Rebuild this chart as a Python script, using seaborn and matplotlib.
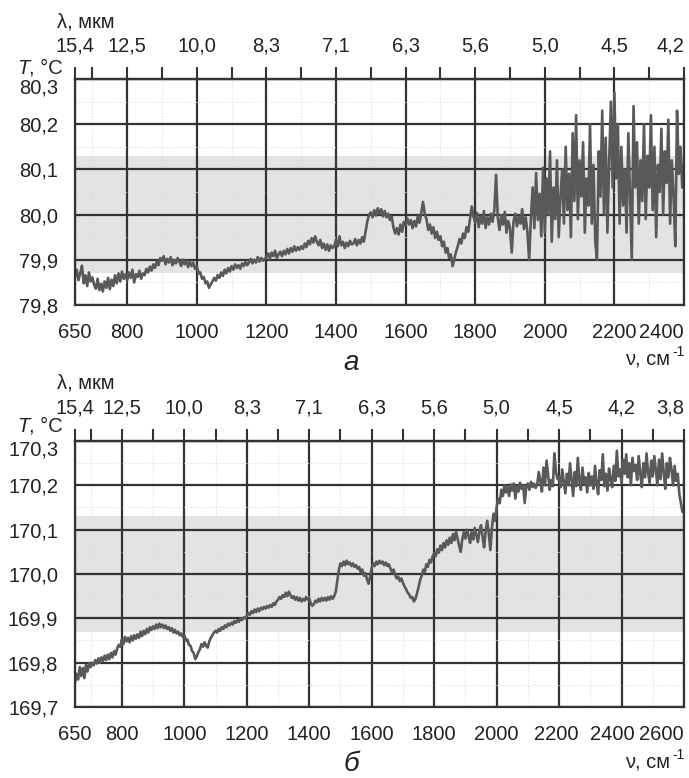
import numpy as np
import pandas as pd
import seaborn as sns
import matplotlib.pyplot as plt
from matplotlib.transforms import ScaledTranslation

# --- donnees ---
# panneau a : nu = 650..2400 cm-1, pas 5
nu_a = np.arange(650, 2401, 5)
T_a = [
    79.862, 79.878, 79.855, 79.870, 79.887, 79.848, 79.866, 79.842, 79.872, 79.852,
    79.861, 79.845, 79.836, 79.858, 79.833, 79.847, 79.830, 79.852, 79.838, 79.860,
    79.835, 79.856, 79.842, 79.866, 79.848, 79.870, 79.852, 79.874, 79.858, 79.868,
    79.855, 79.872, 79.860, 79.878, 79.850, 79.868, 79.862, 79.876, 79.858, 79.870,
    79.866, 79.880, 79.872, 79.885, 79.876, 79.890, 79.882, 79.896, 79.888, 79.904,
    79.898, 79.908, 79.890, 79.902, 79.894, 79.906, 79.888, 79.900, 79.892, 79.904,
    79.896, 79.886, 79.900, 79.890, 79.898, 79.884, 79.896, 79.886, 79.894, 79.880,
    79.886, 79.870, 79.872, 79.858, 79.862, 79.848, 79.852, 79.838, 79.846, 79.852,
    79.860, 79.854, 79.866, 79.860, 79.872, 79.864, 79.878, 79.870, 79.882, 79.874,
    79.886, 79.878, 79.890, 79.882, 79.888, 79.880, 79.892, 79.886, 79.896, 79.888,
    79.894, 79.902, 79.892, 79.900, 79.894, 79.906, 79.896, 79.904, 79.898, 79.902,
    79.906, 79.914, 79.902, 79.916, 79.908, 79.920, 79.904, 79.912, 79.918, 79.908,
    79.920, 79.912, 79.924, 79.914, 79.926, 79.918, 79.930, 79.920, 79.928, 79.922,
    79.930, 79.924, 79.936, 79.928, 79.942, 79.934, 79.948, 79.938, 79.952, 79.940,
    79.932, 79.944, 79.926, 79.936, 79.922, 79.934, 79.920, 79.932, 79.926, 79.930,
    79.944, 79.930, 79.952, 79.932, 79.940, 79.926, 79.938, 79.930, 79.942, 79.934,
    79.936, 79.946, 79.932, 79.944, 79.936, 79.950, 79.940, 79.962, 79.985, 80.000,
    80.005, 79.994, 80.010, 79.998, 80.014, 80.002, 80.012, 79.996, 80.008, 79.994,
    80.002, 79.988, 79.996, 79.972, 79.958, 79.970, 79.956, 79.978, 79.962, 79.984,
    79.976, 79.992, 79.978, 79.988, 79.970, 79.986, 79.974, 79.996, 79.982, 80.004,
    80.028, 80.002, 79.990, 79.966, 79.978, 79.958, 79.972, 79.948, 79.962, 79.944,
    79.952, 79.930, 79.940, 79.916, 79.926, 79.904, 79.912, 79.886, 79.902, 79.918,
    79.930, 79.946, 79.936, 79.958, 79.948, 79.972, 79.962, 79.990, 80.018, 79.996,
    79.982, 80.004, 79.972, 79.996, 79.980, 80.008, 79.970, 79.994, 79.978, 80.002,
    79.984, 80.010, 80.088, 79.992, 79.966, 79.998, 79.978, 80.006, 79.960, 79.986,
    79.970, 79.916, 79.984, 80.002, 79.974, 79.996, 79.980, 80.012, 79.968, 79.994,
    79.962, 79.900, 79.990, 80.060, 79.970, 80.092, 79.988, 80.046, 79.952, 80.104,
    79.960, 80.080, 80.000, 80.140, 79.940, 80.060, 79.990, 80.120, 79.950, 80.040,
    80.100, 79.980, 80.150, 80.010, 80.090, 79.950, 80.180, 80.030, 80.220, 79.990,
    80.120, 80.040, 80.160, 79.960, 80.080, 80.020, 80.200, 79.980, 80.110, 79.940,
    79.900, 80.140, 80.040, 80.230, 80.000, 80.170, 79.960, 80.120, 80.250, 80.060,
    80.270, 80.080, 80.200, 79.980, 80.150, 80.020, 80.100, 79.960, 80.180, 80.040,
    79.900, 80.240, 80.060, 80.160, 79.980, 80.120, 80.030, 80.200, 79.990, 80.130,
    80.060, 80.220, 80.010, 80.150, 79.950, 80.110, 80.050, 80.190, 80.000, 80.140,
    80.070, 80.210, 79.980, 80.120, 80.040, 79.930, 80.230, 80.090, 80.150, 80.060,
    80.110,
]

# panneau b : nu = 650..2600 cm-1, pas 5
nu_b = np.arange(650, 2601, 5)
T_b = [
    169.755, 169.775, 169.762, 169.790, 169.770, 169.788, 169.765, 169.795, 169.780, 169.798,
    169.790, 169.800, 169.794, 169.806, 169.798, 169.810, 169.800, 169.812, 169.804, 169.816,
    169.806, 169.818, 169.808, 169.822, 169.812, 169.826, 169.818, 169.832, 169.840, 169.836,
    169.852, 169.842, 169.858, 169.848, 169.856, 169.846, 169.860, 169.850, 169.862, 169.854,
    169.864, 169.856, 169.870, 169.860, 169.872, 169.864, 169.876, 169.868, 169.880, 169.874,
    169.882, 169.876, 169.886, 169.878, 169.888, 169.880, 169.886, 169.878, 169.884, 169.876,
    169.880, 169.872, 169.878, 169.868, 169.874, 169.866, 169.870, 169.862, 169.866, 169.858,
    169.862, 169.850, 169.852, 169.840, 169.838, 169.826, 169.822, 169.808, 169.814, 169.824,
    169.830, 169.842, 169.836, 169.846, 169.838, 169.834, 169.848, 169.856, 169.862, 169.868,
    169.872, 169.868, 169.876, 169.872, 169.880, 169.876, 169.884, 169.880, 169.888, 169.884,
    169.890, 169.886, 169.894, 169.890, 169.896, 169.892, 169.900, 169.896, 169.902, 169.900,
    169.906, 169.912, 169.908, 169.916, 169.912, 169.920, 169.914, 169.922, 169.916, 169.924,
    169.920, 169.926, 169.922, 169.928, 169.924, 169.930, 169.926, 169.934, 169.930, 169.938,
    169.942, 169.948, 169.944, 169.952, 169.948, 169.958, 169.950, 169.960, 169.952, 169.946,
    169.950, 169.942, 169.948, 169.940, 169.946, 169.938, 169.944, 169.940, 169.948, 169.942,
    169.944, 169.934, 169.928, 169.932, 169.940, 169.936, 169.944, 169.938, 169.946, 169.940,
    169.946, 169.940, 169.948, 169.942, 169.950, 169.944, 169.950, 169.960, 169.985, 170.010,
    170.024, 170.018, 170.028, 170.020, 170.030, 170.022, 170.026, 170.018, 170.024, 170.016,
    170.020, 170.012, 170.016, 170.004, 170.010, 169.996, 170.002, 169.988, 169.978, 169.994,
    170.014, 170.024, 170.018, 170.028, 170.022, 170.030, 170.024, 170.028, 170.020, 170.026,
    170.018, 170.022, 170.012, 170.004, 170.010, 169.998, 169.990, 169.994, 169.984, 169.990,
    169.980, 169.972, 169.966, 169.958, 169.954, 169.946, 169.948, 169.938, 169.944, 169.956,
    169.970, 169.986, 169.996, 170.010, 170.004, 170.022, 170.016, 170.032, 170.026, 170.040,
    170.046, 170.040, 170.056, 170.048, 170.064, 170.054, 170.070, 170.060, 170.076, 170.066,
    170.082, 170.070, 170.090, 170.076, 170.096, 170.080, 170.064, 170.050, 170.078, 170.094,
    170.080, 170.100, 170.086, 170.070, 170.094, 170.078, 170.104, 170.088, 170.072, 170.096,
    170.110, 170.084, 170.060, 170.098, 170.120, 170.090, 170.054, 170.104, 170.136, 170.120,
    170.150, 170.170, 170.160, 170.190, 170.176, 170.200, 170.184, 170.196, 170.176, 170.202,
    170.188, 170.204, 170.170, 170.198, 170.186, 170.206, 170.192, 170.200, 170.160, 170.198,
    170.204, 170.190, 170.208, 170.196, 170.204, 170.194, 170.202, 170.230, 170.210, 170.186,
    170.240, 170.200, 170.256, 170.224, 170.190, 170.212, 170.198, 170.272, 170.230, 170.214,
    170.220, 170.196, 170.236, 170.208, 170.182, 170.226, 170.200, 170.250, 170.214, 170.176,
    170.230, 170.198, 170.262, 170.210, 170.190, 170.240, 170.204, 170.218, 170.184, 170.228,
    170.200, 170.220, 170.192, 170.244, 170.206, 170.180, 170.234, 170.212, 170.270, 170.198,
    170.226, 170.188, 170.238, 170.214, 170.196, 170.244, 170.210, 170.278, 170.220, 170.236,
    170.206, 170.258, 170.226, 170.270, 170.218, 170.250, 170.200, 170.262, 170.232, 170.246,
    170.212, 170.266, 170.226, 170.196, 170.250, 170.218, 170.272, 170.228, 170.206, 170.256,
    170.220, 170.266, 170.234, 170.200, 170.258, 170.214, 170.272, 170.230, 170.192, 170.250,
    170.218, 170.262, 170.236, 170.200, 170.244, 170.210, 170.226, 170.180, 170.160, 170.140,
    170.150,
]

# ticks et etiquettes
nu_ticks_a = [650, 800, 1000, 1200, 1400, 1600, 1800, 2000, 2200, 2400]
nu_labels_a = ["650", "800", "1000", "1200", "1400", "1600", "1800", "2000", "2200", "2400"]
lam_labels_a = ["15,4", "12,5", "10,0", "8,3", "7,1", "6,3", "5,6", "5,0", "4,5", "4,2"]
nu_ticks_b = [650, 800, 1000, 1200, 1400, 1600, 1800, 2000, 2200, 2400, 2600]
nu_labels_b = ["650", "800", "1000", "1200", "1400", "1600", "1800", "2000", "2200", "2400", "2600"]
lam_labels_b = ["15,4", "12,5", "10,0", "8,3", "7,1", "6,3", "5,6", "5,0", "4,5", "4,2", "3,8"]
T_ticks_a = [79.8, 79.9, 80.0, 80.1, 80.2, 80.3]
T_labels_a = ["79,8", "79,9", "80,0", "80,1", "80,2", "80,3"]
T_ticks_b = [169.7, 169.8, 169.9, 170.0, 170.1, 170.2, 170.3]
T_labels_b = ["169,7", "169,8", "169,9", "170,0", "170,1", "170,2", "170,3"]
band_a = (79.87, 80.13)
band_b = (169.87, 170.13)

sns.set_style("white")
plt.rcParams['font.family'] = ['Liberation Sans', 'DejaVu Sans']

W, H = 689, 778
fig = plt.figure(figsize=(W / 100, H / 100), dpi=100)
DARK = '#333333'
TXT = '#222222'
FS = 14.5


def px(x, y):
    return x / W, 1 - y / H


def decale(label, dx_px):
    label.set_transform(label.get_transform() + ScaledTranslation(dx_px / 100, 0, fig.dpi_scale_trans))


def panneau(rect, nu, T, xmax, nu_ticks, nu_labels, lam_labels, T_ticks, T_labels, band):
    ax = fig.add_axes(rect)
    ax.axhspan(band[0], band[1], color='#e3e3e3', lw=0, zorder=0)
    df = pd.DataFrame({'nu': nu, 'T': T})
    sns.lineplot(data=df, x='nu', y='T', ax=ax, color='#595959', lw=1.9, zorder=3)
    ax.set_xlim(650, xmax)
    ax.set_ylim(T_ticks[0], T_ticks[-1])
    ax.set_xlabel('')
    ax.set_ylabel('')

    minor_x = list(range(700, xmax, 200))
    ax.set_xticks(nu_ticks, nu_labels)
    ax.set_xticks(minor_x, minor=True)
    minor_y = [t + 0.05 for t in T_ticks[:-1]]
    ax.set_yticks(T_ticks, T_labels)
    ax.set_yticks(minor_y, minor=True)

    ax.grid(which='major', color=DARK, lw=1.6, zorder=2)
    ax.grid(which='minor', color='#dcdcdc', lw=0.8, ls=':', zorder=1)
    ax.set_axisbelow(False)
    for s in ax.spines.values():
        s.set_color(DARK)
        s.set_linewidth(1.6)
        s.set_zorder(4)

    ax.tick_params(axis='x', which='both', direction='out', length=9, width=1.5,
                   color=DARK, labelsize=FS, pad=4, labelcolor=TXT)
    ax.tick_params(axis='y', which='both', direction='out', length=9, width=1.5,
                   color=DARK, labelsize=FS, pad=3, labelcolor=TXT)
    xl = ax.get_xticklabels()
    xl[-1].set_ha('right')
    if len(xl) > 10:
        decale(xl[-2], -9)
        decale(xl[-3], -3)
    ax.get_yticklabels()[-1].set_va('top')

    top = ax.secondary_xaxis('top')
    top.set_xticks(nu_ticks, lam_labels)
    top.set_xticks(minor_x + [650], minor=True)
    top.tick_params(which='both', direction='out', length=9, width=1.5,
                    color=DARK, labelsize=FS, pad=8, labelcolor=TXT)
    top.get_xticklabels()[-1].set_ha('right')
    top.spines['top'].set_color(DARK)
    top.spines['top'].set_linewidth(1.6)
    return ax


ax_a = panneau([75 / W, 1 - 305 / H, 609 / W, 226 / H], nu_a, T_a, 2400,
               nu_ticks_a, nu_labels_a, lam_labels_a, T_ticks_a, T_labels_a, band_a)
ax_b = panneau([75 / W, 1 - 707 / H, 609 / W, 266 / H], nu_b, T_b, 2600,
               nu_ticks_b, nu_labels_b, lam_labels_b, T_ticks_b, T_labels_b, band_b)

# textes des axes
for y_lam, y_T, y_nu, lettre, y_let in [(22, 68, 359, 'а', 370), (383, 426, 762, 'б', 771)]:
    fig.text(*px(57, y_lam), 'λ, мкм', fontsize=FS, va='center', ha='left', color=TXT)
    fig.text(*px(17, y_T), 'T', fontsize=FS, style='italic', va='center', ha='left', color=TXT)
    fig.text(*px(29, y_T), ', °C', fontsize=FS, va='center', ha='left', color=TXT)
    fig.text(*px(625, y_nu), 'ν, см', fontsize=FS, va='center', ha='left', color=TXT)
    fig.text(*px(672, y_nu - 7), '-1', fontsize=10, va='center', ha='left', color=TXT)
    fig.text(*px(351, y_let), lettre, fontsize=20, style='italic', va='baseline', ha='center', color=TXT)

fig.savefig('out.png', dpi=100)
